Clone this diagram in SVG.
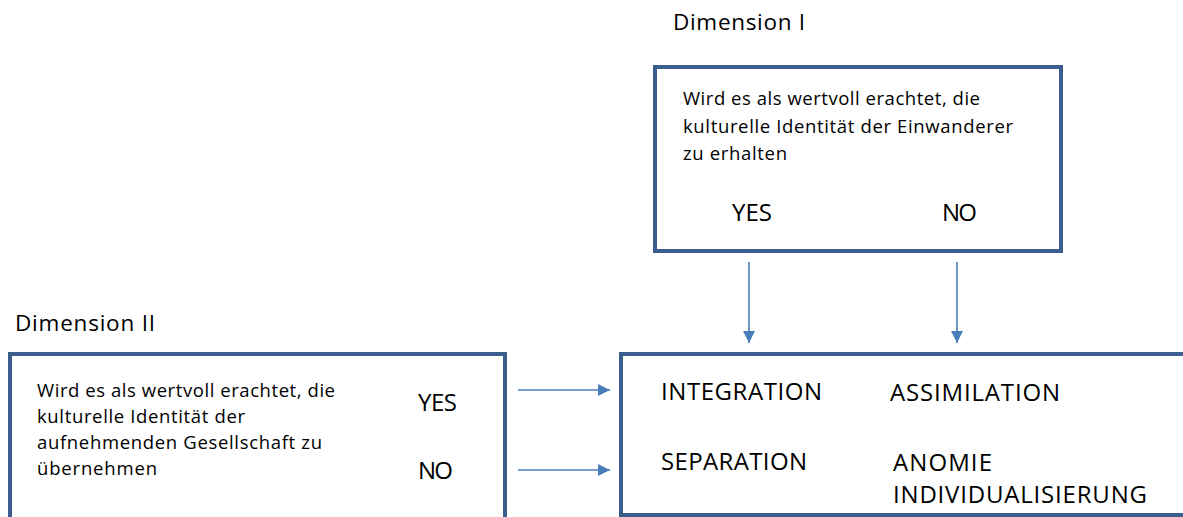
<svg xmlns="http://www.w3.org/2000/svg" width="1183" height="517" viewBox="0 0 1183 517">
  <style>
    text { font-family: "Open Sans", "Liberation Sans", sans-serif; fill: #000; }
    .box { fill: #fff; stroke: #3B5F8C; stroke-width: 4; }
    .para { font-size: 18.5px; }
    .label { font-size: 24px; }
    .title { font-size: 22.5px; }
    .conn { stroke: #4A7EBB; stroke-width: 1.6; fill: none; marker-end: url(#arrow); }
  </style>
  <defs>
    <marker id="arrow" markerUnits="userSpaceOnUse" markerWidth="13" markerHeight="13" refX="12" refY="6" orient="auto">
      <path d="M0,0 L12,6 L0,12 z" fill="#4A7EBB"/>
    </marker>
  </defs>

  <rect width="1183" height="517" fill="#fff"/>

  <!-- Dimension I: immigrant culture -->
  <g id="dimension-1">
    <text class="title" x="673" y="30" textLength="132">Dimension I</text>
    <rect class="box" x="655" y="67" width="406" height="184"/>
    <text class="para" x="683" y="105" textLength="297">Wird es als wertvoll erachtet, die</text>
    <text class="para" x="683" y="133" textLength="330">kulturelle Identität der Einwanderer</text>
    <text class="para" x="683" y="160" textLength="104">zu erhalten</text>
    <text class="label" x="732" y="221" textLength="40">YES</text>
    <text class="label" x="942" y="221" textLength="35">NO</text>
  </g>

  <!-- Dimension II: host society culture -->
  <g id="dimension-2">
    <text class="title" x="15" y="331" textLength="140">Dimension II</text>
    <rect class="box" x="10" y="354" width="495" height="175"/>
    <text class="para" x="37" y="397" textLength="298">Wird es als wertvoll erachtet, die</text>
    <text class="para" x="37" y="423" textLength="208">kulturelle Identität der</text>
    <text class="para" x="37" y="449" textLength="285">aufnehmenden Gesellschaft zu</text>
    <text class="para" x="37" y="475" textLength="120">übernehmen</text>
    <text class="label" x="418" y="411" textLength="39">YES</text>
    <text class="label" x="418" y="479" textLength="35">NO</text>
  </g>

  <!-- Resulting strategies -->
  <g id="outcomes">
    <rect class="box" x="621" y="354" width="600" height="161"/>
    <text class="label" x="661" y="400" textLength="161">INTEGRATION</text>
    <text class="label" x="890" y="401" textLength="170">ASSIMILATION</text>
    <text class="label" x="661" y="470" textLength="146">SEPARATION</text>
    <text class="label" x="893" y="471" textLength="99">ANOMIE</text>
    <text class="label" x="893" y="503" textLength="254">INDIVIDUALISIERUNG</text>
  </g>

  <g id="connectors">
    <line class="conn" x1="749" y1="262" x2="749" y2="343"/>
    <line class="conn" x1="957" y1="262" x2="957" y2="343"/>
    <line class="conn" x1="518" y1="390" x2="610" y2="390"/>
    <line class="conn" x1="518" y1="470" x2="610" y2="470"/>
  </g>
</svg>
